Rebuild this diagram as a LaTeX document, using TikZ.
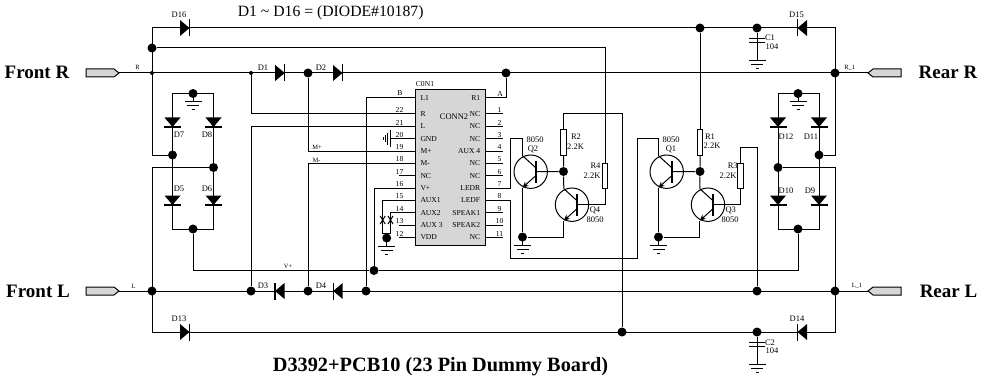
\documentclass[tikz,border=0pt]{standalone}
\usepackage{fontspec}
\setmainfont{Liberation Serif}
\usetikzlibrary{arrows.meta}
\definecolor{chipgray}{RGB}{214,214,214}
\tikzset{
    junction/.style={circle, fill=black, inner sep=0pt, minimum size=9pt},
    smalljunction/.style={circle, fill=black, inner sep=0pt, minimum size=4pt},
    resistor/.style={rectangle, draw, fill=white, inner sep=0pt, minimum width=5.5pt, minimum height=25pt},
    chipbox/.style={rectangle, draw, fill=chipgray, inner sep=0pt, minimum width=70pt, minimum height=156pt},
    pintext/.style={inner sep=0pt, font=\fontsize{7.6}{8}\selectfont},
    parttext/.style={inner sep=0pt, font=\fontsize{8.5}{9}\selectfont},
    nettext/.style={inner sep=0pt, font=\fontsize{6.5}{7}\selectfont},
    bigtext/.style={inner sep=0pt, anchor=base, font=\fontsize{19}{21}\selectfont\bfseries},
    diode/.pic={
        \fill (-5,-8) -- (4.5,0) -- (-5,8) -- cycle;
        \draw[line width=1.2pt] (4.5,-8.5) -- (4.5,8.5);
    },
    ground/.pic={
        \draw (0,0) -- (0,8);
        \draw (-8.5,8) -- (8.5,8);
        \draw (-6,12) -- (6,12);
        \draw (-1.5,16) -- (1.5,16);
    },
    chassis/.pic={
        \draw (0,-8.5) -- (0,8.5);
        \draw (-3,-6) -- (-3,6);
        \draw (-5.5,-3.5) -- (-5.5,3.5);
        \draw (-7.7,-1.5) -- (-7.7,1.5);
    },
    cap/.pic={
        \draw (-8,-2) -- (8,-2);
        \draw (-8,2) -- (8,2);
    },
    jumper/.pic={
        \draw (-2.5,-4) -- (2.5,4);
        \draw (2.5,-4) -- (-2.5,4);
    },
    port/.pic={
        \draw[fill=chipgray] (0,0) -- (-5,-4) -- (-33,-4) -- (-33,4) -- (-5,4) -- cycle;
    },
    npn/.pic={
        \draw (0,0) circle (16.7);
        \draw[line width=2pt] (5,-11) -- (5,11);
        \coordinate (-b) at (5,0);
        \coordinate (-c) at (-8.2,-16);
        \coordinate (-e) at (-8.2,16);
        \draw (5,-4) -- (-c);
        \draw[-{Stealth[length=6pt, width=5.5pt]}] (5,4) -- (-e);
    },
}

\begin{document}
\begin{tikzpicture}[x=1pt, y=-1pt, line width=1pt]
    \useasboundingbox (0,0) rectangle (990,377);

    % Junctions
    \foreach \name/\x/\y in {jHigh/152/48, jD2/308/73, jA/506/73, jRearR/835/73,
        jFrontL/152/291, jD3/251/291, jD4/308/291, jB/366/291, jR3/757/291, jRearL/835/291,
        jPower/374/270.5, jR1/700/28, jC1/757/28, jC2/757/332, jR2/622/332,
        jGndL/193/93.5, jD7/172.5/155, jD8/213.5/167.5, jOutL/193/229,
        jGndR/798/93.5, jD11/819/155, jD12/778/167.5, jOutR/798/229,
        jBaseA/563.5/171.5, jGndA/522.5/237, jBaseB/700/171.5, jGndB/658.5/237, jAux/386.7/238}
        \node[junction] (\name) at (\x,\y) {};
    \node[smalljunction] (jFrontR) at (152,73) {};
    \node[smalljunction] (jD1) at (251,73) {};

    % Corners
    \coordinate (TopL) at (152,28);
    \coordinate (TopR) at (835,28);
    \coordinate (BotL) at (152,332);
    \coordinate (BotR) at (835,332);
    \coordinate (PortFR) at (119,73);
    \coordinate (PortFL) at (119,291);
    \coordinate (PortRR) at (868,73);
    \coordinate (PortRL) at (868,291);
    \coordinate (BridgeLa) at (172.5,93.5);
    \coordinate (BridgeLb) at (213.5,229);
    \coordinate (BridgeRa) at (778,93.5);
    \coordinate (BridgeRb) at (819,229);
    \coordinate (R2Top) at (563.5,114);
    \coordinate (R3Top) at (757,147);
    \coordinate (Q2Top) at (510.5,139);
    \coordinate (Q1Top) at (637.5,139);
    \coordinate (Pin8Low) at (510.5,258);
    \coordinate (AuxA) at (382.7,233.5);
    \coordinate (AuxB) at (390.5,233.5);

    % Chip
    \node[chipbox] (Conn) at (450.7,167.7) {};
    \node[pintext] (ConnName) at (425,84) {C0N1};
    \node[pintext, font=\fontsize{8.5}{9}\selectfont] (ConnType) at (454,117) {CONN2};
    \coordinate (PinB) at (415.7,98);
    \coordinate (PinA) at (485.7,98);
    \node[pintext, anchor=west] (TextB) at (420,98) {L1};
    \node[pintext, anchor=east] (TextA) at (480.7,98) {R1};
    \node[pintext] (NumB) at (400,93.5) {B};
    \node[pintext] (NumA) at (500,93.5) {A};
    \foreach \num/\y/\txt in {22/114/R, 21/126.4/L, 20/138.7/GND, 19/151/M+, 18/163.3/M-, 17/175.6/NC,
        16/188/V+, 15/200.3/AUX1, 14/212.6/AUX2, 13/225/AUX 3, 12/237.3/VDD}{
        \coordinate (Pin\num) at (415.7,\y);
        \node[pintext, anchor=west] (Text\num) at (420,\y) {\txt};
        \node[pintext] (Num\num) at (399.5,\y-3.8) {\num};
    }
    \foreach \num/\y/\txt in {1/114/NC, 2/126.4/NC, 3/138.7/NC, 4/151/AUX 4, 5/163.3/NC, 6/175.6/NC,
        7/188/LEDR, 8/200.3/LEDF, 9/212.6/SPEAK1, 10/225/SPEAK2, 11/237.3/NC}{
        \coordinate (Pin\num) at (485.7,\y);
        \node[pintext, anchor=east] (Text\num) at (480.7,\y) {\txt};
        \node[pintext] (Num\num) at (499.5,\y-3.8) {\num};
    }
    \foreach \num in {17, 13, 12}
        \draw (Pin\num) -- ++(-17,0);
    \foreach \num in {1, 2, 3, 4, 5, 6, 9, 10, 11}
        \draw (Pin\num) -- ++(17,0);

    % Resistors
    \node[resistor] (R1) at (700,142.5) {};
    \node[resistor] (R2) at (563.5,142.5) {};
    \node[resistor] (R3) at (740.7,175.5) {};
    \node[resistor] (R4) at (605,175.5) {};

    % Transistors
    \pic (Q2) at (530.7,171.7) {npn};
    \pic (Q4) at (572,204.7) {npn};
    \pic (Q1) at (666.7,171.7) {npn};
    \pic (Q3) at (708,204.7) {npn};

    % Rails
    \draw (jD7) -| (TopL) -- (TopR) |- (jD11);
    \draw (jD8) -| (BotL) -- (BotR) |- (jD12);
    \draw (PortFR) -- (PortRR);
    \draw (PortFL) -- (PortRL);
    \draw (BridgeLa) rectangle (BridgeLb);
    \draw (BridgeRa) rectangle (BridgeRb);
    \draw (jOutL) |- (jPower) -| (jOutR);

    % Chip wiring
    \draw (jD1) |- (Pin22);
    \draw (jD3) |- (Pin21);
    \draw (jD2) |- (Pin19);
    \draw (jD4) |- (Pin18);
    \draw (jB) |- (PinB);
    \draw (jA) |- (PinA);
    \draw (jPower) |- (Pin16);
    \draw (Pin20) -- ++(-25,0);
    \pic at (390.7,138.7) {chassis};
    \draw (Pin15) -| (AuxA) -- (AuxB) |- (Pin14);
    \pic at (382.7,220) {jumper};
    \pic at (390.5,220) {jumper};
    \pic at (jAux) {ground};

    % Left driver
    \draw (jHigh) -| (R4.north);
    \draw (R4.south) |- (Q4-b);
    \draw (jR2) |- (R2Top) -- (R2.north);
    \draw (R2.south) -- (jBaseA) -- (Q4-c);
    \draw (Q2-b) -- (jBaseA);
    \draw (Q2-c) |- (Q2Top) |- (Pin7);
    \draw (Q2-e) -- (jGndA) -| (Q4-e);
    \pic at (jGndA) {ground};

    % Right driver
    \draw (jR1) -- (R1.north);
    \draw (R1.south) -- (jBaseB) -- (Q3-c);
    \draw (Q1-b) -- (jBaseB);
    \draw (Q1-c) |- (Q1Top) |- (Pin8Low) |- (Pin8);
    \draw (Q1-e) -- (jGndB) -| (Q3-e);
    \pic at (jGndB) {ground};
    \draw (Q3-b) -| (R3.south);
    \draw (R3.north) |- (R3Top) -- (jR3);

    % Bridges
    \pic at (jGndL) {ground};
    \pic at (jGndR) {ground};
    \foreach \name/\x/\y/\rot/\lx/\ly in {
        D16/185/28/0/179/15, D13/185/332/0/179/319, D1/280.2/73/0/263/68, D2/338/73/0/321/68,
        D3/279.5/291/180/263/286, D4/337.7/291/180/321/286, D15/802/28/180/796.5/15, D14/802/332/180/797/319,
        D7/172.5/122.5/-90/179/135, D8/213.5/122.5/-90/207/135, D5/172.5/200.5/-90/179/189, D6/213.5/200.5/-90/207/189,
        D12/778/122.5/-90/786/137, D11/819/122.5/-90/811/137, D10/778/200.5/-90/786/191, D9/819/200.5/-90/810/191}{
        \pic[rotate=\rot] at (\x,\y) {diode};
        \node[parttext] (Label\name) at (\lx,\ly) {\name};
    }

    % Capacitors
    \coordinate (C1Gnd) at (757,53);
    \coordinate (C2Gnd) at (757,356.5);
    \draw (jC1) -- (C1Gnd);
    \draw (jC2) -- (C2Gnd);
    \pic at (757,40.5) {cap};
    \pic at (757,344) {cap};
    \pic at (C1Gnd) {ground};
    \pic at (C2Gnd) {ground};

    % Ports
    \pic at (PortFR) {port};
    \pic at (PortFL) {port};
    \pic[rotate=180] at (PortRR) {port};
    \pic[rotate=180] at (PortRL) {port};

    % Part values
    \foreach \name/\txt/\x/\y in {TextCa/C1/770/38, TextCb/104/772/47, TextCc/C2/770/343, TextCd/104/772/351,
        TextQa/8050/535/140, TextQb/Q2/533/149, TextQc/Q4/595/210, TextQd/8050/595/220,
        TextQe/8050/671/140, TextQf/Q1/671/149, TextQg/Q3/730.7/210, TextQh/8050/730/220,
        TextRa/R2/576/137, TextRb/2.2K/575.5/147, TextRc/R4/595.5/166, TextRd/2.2K/592/176,
        TextRe/R1/710/137, TextRf/2.2K/712/146, TextRg/R3/732.7/166, TextRh/2.2K/728/176}
        \node[parttext] (\name) at (\x,\y) {\txt};

    % Net names
    \node[nettext] (NetR) at (137.5,67) {R};
    \node[nettext] (NetL) at (133.5,286) {L};
    \node[nettext] (NetRb) at (849.7,67.5) {R\_1};
    \node[nettext] (NetLb) at (857,285.7) {L\_1};
    \node[nettext] (NetVp) at (288,266) {V+};
    \node[nettext] (NetMp) at (317,147.7) {M+};
    \node[nettext] (NetMm) at (316.5,160) {M-};

    % Title
    \node[bigtext] (FrontRText) at (37,79) {Front R};
    \node[bigtext] (FrontLText) at (38,297.5) {Front L};
    \node[bigtext] (RearRText) at (948,79) {Rear R};
    \node[bigtext] (RearLText) at (948.5,297.5) {Rear L};
    \node[inner sep=0pt, anchor=base, font=\fontsize{15.7}{17}\selectfont] (NoteText) at (330.7,16.5) {D1 \textasciitilde{} D16 = (DIODE\#10187)};
    \node[bigtext, font=\fontsize{20.3}{22}\selectfont\bfseries] (BoardText) at (440.5,371) {D3392+PCB10 (23 Pin Dummy Board)};
\end{tikzpicture}
\end{document}
